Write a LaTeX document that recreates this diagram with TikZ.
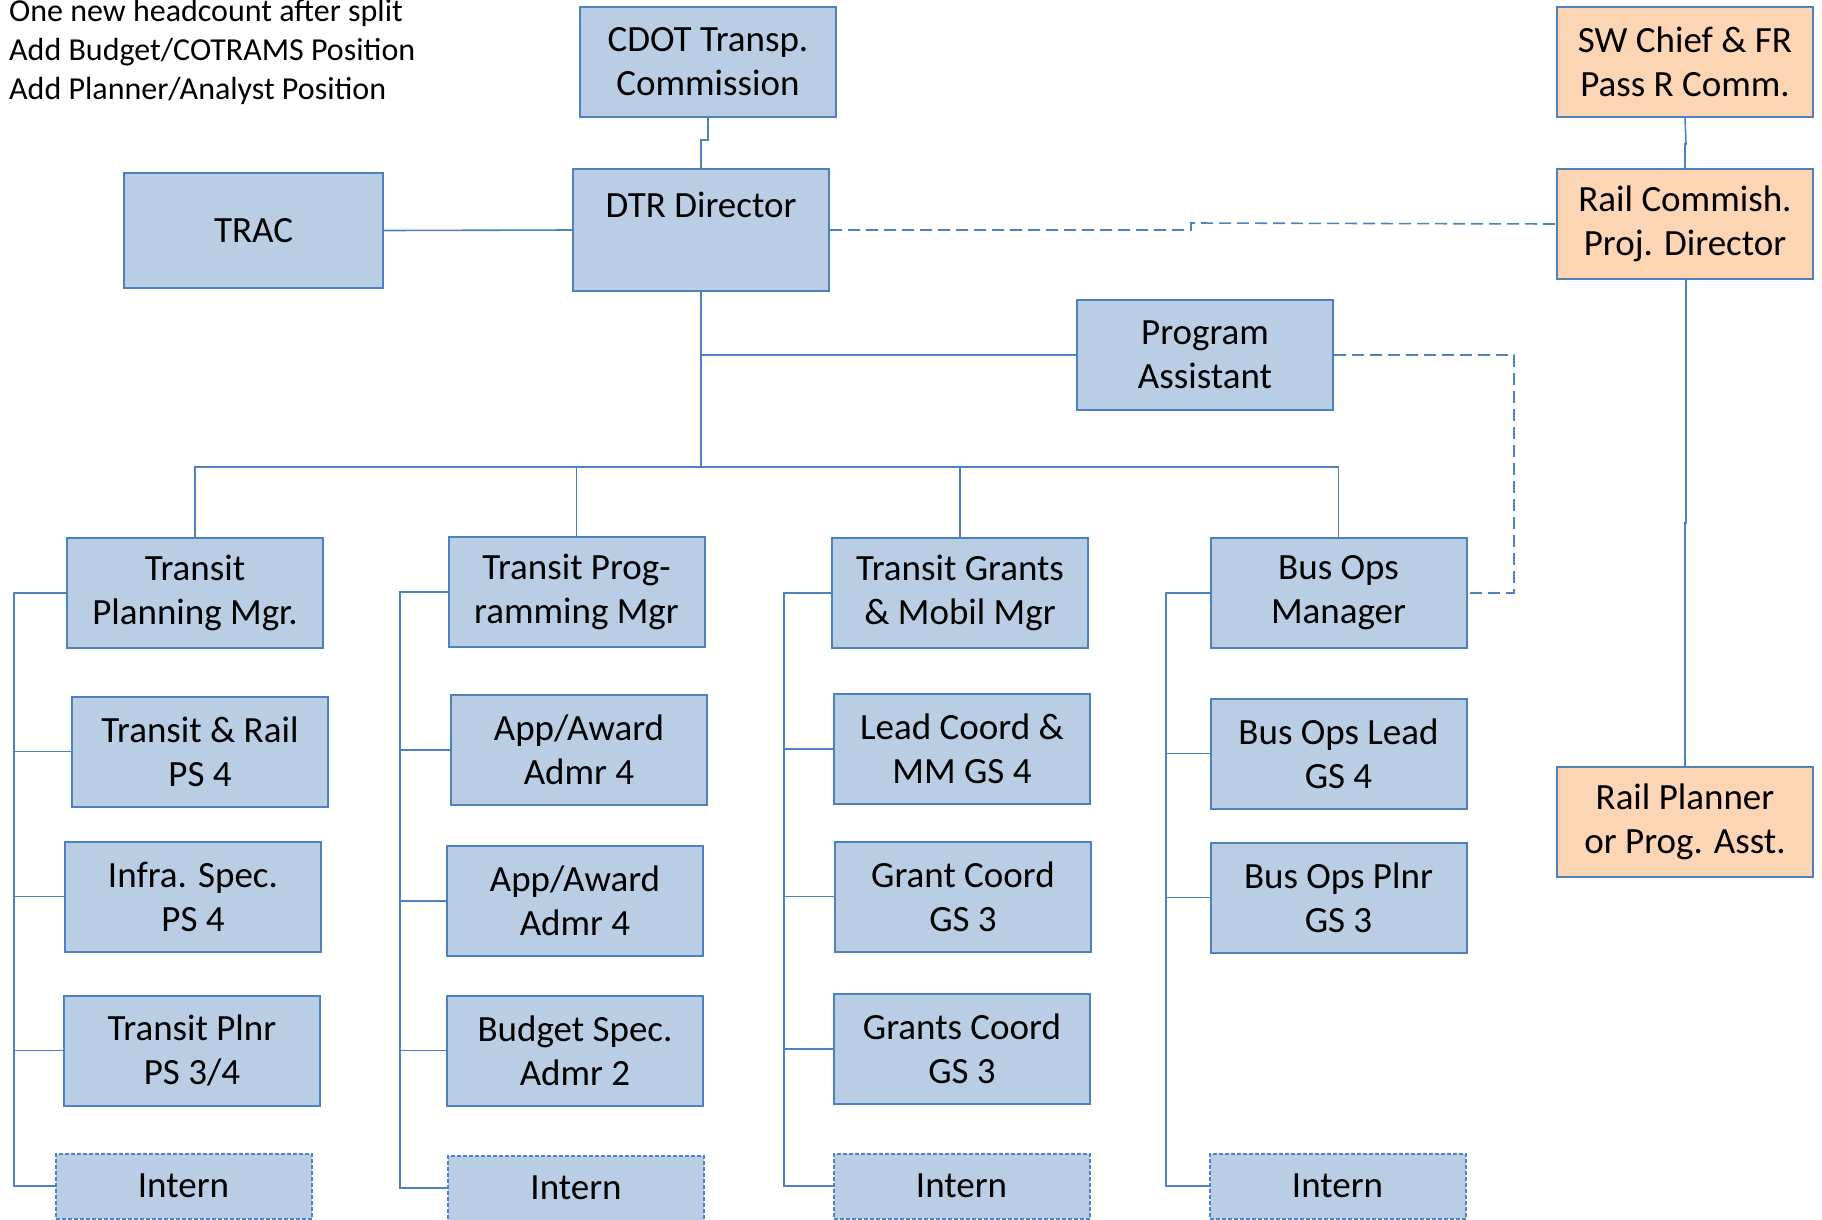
\documentclass[tikz,border=0pt]{standalone}
\usepackage{fontspec}
\setmainfont{Carlito}
\definecolor{boxfill}{HTML}{B9CDE5}
\definecolor{boxline}{HTML}{4F81BD}
\definecolor{orfill}{HTML}{FCD5B5}
\begin{document}
\begin{tikzpicture}[x=1pt,y=-1pt,
  box/.style={draw=boxline, line width=2pt, fill=boxfill, minimum width=256pt, minimum height=110pt, inner sep=0pt, align=center, font=\fontsize{37}{44}\selectfont},
  obox/.style={box, fill=orfill},
  ibox/.style={box, minimum height=65pt, dash pattern=on 4pt off 2pt},
  conn/.style={draw=boxline, line width=1.6pt},
  dconn/.style={conn, dash pattern=on 12pt off 6pt},
  note/.style={anchor=west, inner sep=0pt, font=\fontsize{32}{38}\selectfont}]
\useasboundingbox (0,0) rectangle (1822,1219);

% notes
\node[note] (n1) at (9,13) {One new headcount after split};
\node[note] (n2) at (9,52.5) {Add Budget/COTRAMS Position};
\node[note] (n3) at (9,91) {Add Planner/Analyst Position};

% top level
\node[box] (cdot) at (708,61.5) {CDOT Transp.\\Commission};
\node[box, minimum width=259pt, minimum height=115pt] (trac) at (253.5,230.5) {TRAC};
\node[box, minimum height=122pt] (dtr) at (701,230) {DTR Director\\[6pt] \mbox{}};
\node[obox] (sw) at (1685,61.5) {SW Chief \& FR\\Pass R Comm.};
\node[obox] (rc) at (1685,224) {Rail Commish.\\Proj. Director};
\node[box] (pa) at (1205,355) {Program\\Assistant};
\node[obox] (rp) at (1685,821.5) {Rail Planner\\or Prog. Asst.};

% managers
\node[box] (tpm) at (195,593) {Transit\\Planning Mgr.};
\node[box] (tprm) at (576.5,592) {Transit Prog-\\ramming Mgr};
\node[box] (tgm) at (960,593) {Transit Grants\\\& Mobil Mgr};
\node[box] (bom) at (1338.5,593) {Bus Ops\\Manager};

% column 1
\node[box] (c1a) at (200,751.5) {Transit \& Rail\\PS 4};
\node[box] (c1b) at (193,896.5) {Infra. Spec.\\PS 4};
\node[box] (c1c) at (192,1050.5) {Transit Plnr\\PS 3/4};
\node[ibox] (c1i) at (183.5,1186) {Intern};
% column 2
\node[box] (c2a) at (579,750) {App/Award\\Admr 4};
\node[box] (c2b) at (575,901) {App/Award\\Admr 4};
\node[box] (c2c) at (575,1050.5) {Budget Spec.\\Admr 2};
\node[ibox] (c2i) at (576,1188) {Intern};
% column 3
\node[box] (c3a) at (962,749) {Lead Coord \&\\MM GS 4};
\node[box] (c3b) at (963,896.5) {Grant Coord\\GS 3};
\node[box] (c3c) at (962,1049) {Grants Coord\\GS 3};
\node[ibox] (c3i) at (961.5,1186) {Intern};
% column 4
\node[box] (c4a) at (1338.5,753.5) {Bus Ops Lead\\GS 4};
\node[box] (c4b) at (1338.5,897.5) {Bus Ops Plnr\\GS 3};
\node[ibox] (c4i) at (1337.5,1186) {Intern};

% helper coordinates
\coordinate (j1) at (708,140);
\coordinate (j2) at (1191,223);
\coordinate (j3) at (1686,144);
\coordinate (j4) at (1686,523);
\coordinate (bus) at (701,467);
\coordinate (pad) at (1514,355);
\coordinate (s1) at (14,0);
\coordinate (s2) at (400,0);
\coordinate (s3) at (784,0);
\coordinate (s4) at (1166,0);

% top connectors
\draw[conn] (cdot.south) -- (j1) -| (dtr.north);
\draw[conn] (trac.east) -- (dtr.west);
\draw[dconn] (dtr.east) -| (j2) -- (rc.west);
\draw[conn] (sw.south) -- (j3) -| (rc.north);
\draw[conn] ([xshift=1pt]rc.south) -- (j4) -| (rp.north);
\draw[conn] (dtr.south) -- (bus);
\draw[conn] (dtr.south |- pa.west) -- (pa.west);
\draw[dconn] (pa.east) -- (pad) |- (bom.east);

% bus to managers
\draw[conn] (tpm.north) |- (bus) -| (bom.north);
\draw[conn] (tprm.north) -- (tprm.north |- bus);
\draw[conn] (tgm.north) -- (tgm.north |- bus);

% column spines
\draw[conn] (tpm.west) -- (tpm.west -| s1) |- (c1i.west);
\draw[conn] (c1a.west) -- (c1a.west -| s1);
\draw[conn] (c1b.west) -- (c1b.west -| s1);
\draw[conn] (c1c.west) -- (c1c.west -| s1);

\draw[conn] (tprm.west) -- (tprm.west -| s2) |- (c2i.west);
\draw[conn] (c2a.west) -- (c2a.west -| s2);
\draw[conn] (c2b.west) -- (c2b.west -| s2);
\draw[conn] (c2c.west) -- (c2c.west -| s2);

\draw[conn] (tgm.west) -- (tgm.west -| s3) |- (c3i.west);
\draw[conn] (c3a.west) -- (c3a.west -| s3);
\draw[conn] (c3b.west) -- (c3b.west -| s3);
\draw[conn] (c3c.west) -- (c3c.west -| s3);

\draw[conn] (bom.west) -- (bom.west -| s4) |- (c4i.west);
\draw[conn] (c4a.west) -- (c4a.west -| s4);
\draw[conn] (c4b.west) -- (c4b.west -| s4);
\end{tikzpicture}
\end{document}
